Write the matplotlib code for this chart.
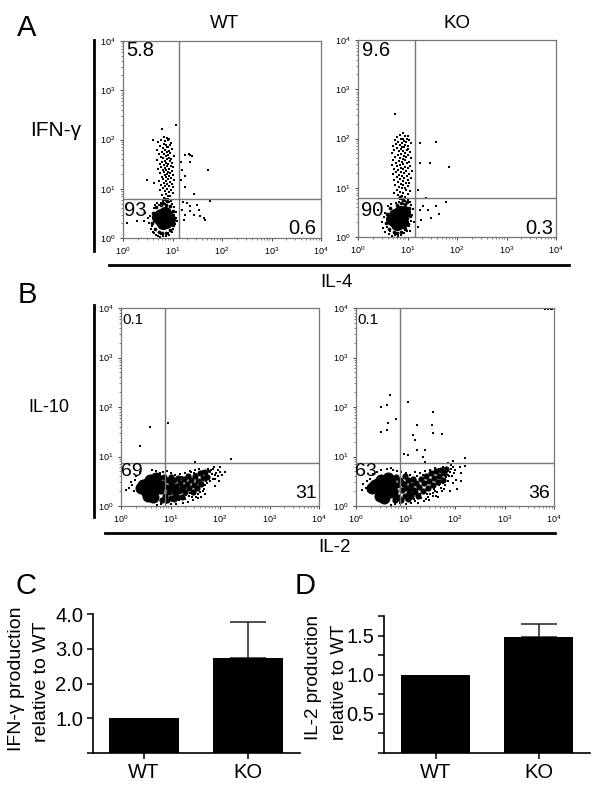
import matplotlib
matplotlib.use("Agg")
import matplotlib.pyplot as plt
import numpy as np
from matplotlib.lines import Line2D

plt.rcParams['font.family'] = ['Liberation Sans', 'DejaVu Sans']
plt.rcParams['mathtext.fontset'] = 'custom'
plt.rcParams['mathtext.rm'] = 'Liberation Sans'
plt.rcParams['mathtext.default'] = 'regular'

W, H = 604, 786

# gate positions, log10 units
gates = {"a_wt": (1.13, 0.79), "a_ko": (1.15, 0.80), "b_wt": (0.88, 0.87), "b_ko": (0.89, 0.87)}

# dots, all as (log10 x, log10 y)
# solid centre of each population
a_wt_core = [(.82, .41), (.76, .36), (.88, .44), (.80, .30), (.84, .50), (.77, .47), (.87, .32), (.71, .42), (.92, .38)]
a_ko_core = [(.81, .38), (.75, .32), (.87, .43), (.79, .26), (.84, .50), (.75, .44), (.88, .31), (.93, .50), (.69, .37)]
b_wt_core = [(.445, .424), (.58, .525), (.58, .357), (.68, .458), (.715, .559), (.546, .458), (.41, .357),
             (.648, .323), (.749, .357), (.546, .20), (.648, .175), (.50, .31)]
b_ko_core = [(.39, .42), (.50, .52), (.50, .35), (.60, .46), (.64, .56), (.47, .46), (.33, .36),
             (.58, .32), (.68, .38), (.48, .20), (.57, .17), (.72, .28)]

# middle density parts of the clouds
a_wt_band = [(.58, .30), (.60, .50), (.64, .18), (.66, .62), (.72, .12), (.78, .10), (.86, .11), (.94, .16), (1.0, .26),
             (1.03, .40), (1.0, .54), (.94, .64), (.86, .68), (.76, .66), (.80, .72), (.88, .75), (.84, .80)]
a_ko_band = [(.56, .28), (.58, .46), (.62, .16), (.64, .58), (.72, .10), (.78, .08), (.86, .10), (.95, .16), (1.02, .26),
             (1.05, .42), (1.03, .58), (.95, .66), (.86, .70), (.78, .64), (.90, .76), (.98, .72), (.84, .82)]
b_wt_band = [(.80, .30), (.84, .46), (.88, .20), (.90, .38), (.94, .52), (.96, .28), (1.0, .44), (1.02, .16), (1.05, .33),
             (1.07, .52), (1.1, .25), (1.12, .41), (1.15, .56), (1.18, .31), (1.2, .47), (1.23, .19), (1.25, .38),
             (1.28, .54), (1.3, .29), (1.33, .45), (1.36, .61), (1.38, .36), (1.42, .52), (1.45, .28), (1.47, .43),
             (1.5, .60), (1.53, .37), (1.56, .50), (1.6, .66), (1.62, .44), (1.66, .56), (1.7, .68), (1.74, .58),
             (.82, .12), (.86, .58), (.92, .12), (1.0, .58), (1.08, .14), (1.14, .18), (.98, .34), (1.1, .36), (1.22, .34)]
b_ko_band = [(.74, .50), (.78, .30), (.82, .42), (.85, .18), (.88, .53), (.92, .32), (.96, .44), (.98, .2), (1.02, .36),
             (1.05, .52), (1.08, .26), (1.12, .42), (1.15, .54), (1.18, .32), (1.22, .46), (1.25, .2), (1.28, .38),
             (1.32, .55), (1.35, .3), (1.38, .46), (1.42, .6), (1.45, .36), (1.48, .5), (1.52, .66), (1.55, .42),
             (1.58, .56), (1.62, .7), (1.65, .48), (1.68, .6), (1.72, .72), (1.75, .52), (1.78, .66), (1.82, .74),
             (.78, .12), (.8, .58), (.9, .12), (.98, .6), (1.06, .14), (1.12, .2), (.92, .46), (1.08, .36), (1.2, .28)]

# single dots
a_wt_dots = [(.82, .82), (.90, .85), (.95, .86), (.78, .88), (.86, .90), (1.0, .91), (.92, .93), (.84, .95), (.74, .97),
             (.97, .98), (.88, 1.0), (.80, 1.01), (1.02, 1.03), (.93, 1.05), (.85, 1.06), (.76, 1.08), (.99, 1.09),
             (.89, 1.1), (.83, 1.12), (.94, 1.13), (.87, 1.15), (.72, 1.16), (1.04, 1.17), (.91, 1.19), (.81, 1.2),
             (.96, 1.21), (.86, 1.23), (.78, 1.24), (.92, 1.26), (.84, 1.27), (1.0, 1.28), (.88, 1.3), (.75, 1.31),
             (.95, 1.32), (.83, 1.34), (.90, 1.35), (.98, 1.36), (.80, 1.38), (.87, 1.39), (.70, 1.4), (.93, 1.41),
             (.85, 1.42), (1.01, 1.44), (.77, 1.45), (.89, 1.46), (.96, 1.47), (.82, 1.48), (.74, 1.5), (.91, 1.51),
             (.86, 1.52), (.99, 1.53), (.79, 1.55), (.94, 1.56), (.84, 1.57), (.68, 1.58), (.88, 1.6), (.97, 1.61),
             (.81, 1.62), (.92, 1.63), (.76, 1.65), (.86, 1.66), (1.03, 1.67), (.90, 1.68), (.72, 1.7), (.83, 1.71),
             (.95, 1.72), (.88, 1.74), (.78, 1.75), (.93, 1.77), (.85, 1.78), (.69, 1.79), (.98, 1.81), (.80, 1.82),
             (.89, 1.84), (.91, 1.85), (.75, 1.86), (.87, 1.88), (.94, 1.89), (.82, 1.91), (.96, 1.93), (.71, 1.94),
             (.85, 1.96), (.90, 1.98), (.77, 2.0), (.93, 2.02), (.88, 2.04), (.83, 2.05),
             (.80, .76), (.86, .78), (.92, .74), (.76, .72), (.84, .70), (.90, .80), (.96, .76), (.72, .68), (.98, .70),
             (1.26, 1.68), (1.36, 1.68), (1.33, 1.7), (1.39, 1.66), (1.36, 1.55), (1.72, 1.38), (1.26, 1.25), (1.26, 1.04),
             (1.43, .9), (1.75, .76), (1.29, .71), (1.49, .67), (1.36, .54), (1.53, .57), (1.63, .4), (1.26, .47),
             (1.43, .47), (1.56, .44), (1.66, .37), (1.35, .64), (1.21, .74), (1.19, .57), (1.24, .37), (1.19, 1.38),
             (1.17, 1.55), (1.18, 1.18), (.79, 2.22), (1.07, 2.3), (.61, 2.0), (.48, 1.18), (.62, 1.11), (.08, .3),
             (.28, .34), (.42, .34), (.45, .5),
             (.52, .30), (.56, .18), (.55, .44), (.60, .12), (.62, .60), (.66, .06), (.70, .04), (.74, .03), (.80, .05),
             (.86, .04), (.92, .07), (.98, .12), (1.02, .18), (1.06, .28), (1.08, .40), (1.07, .52), (1.03, .62),
             (.64, .68), (.58, .24), (.50, .40), (.68, .72), (.63, .10), (.76, .09), (.90, .10), (1.04, .46), (1.10, .34)]

a_ko_dots = [(.88, .84), (.95, .82), (.80, .86), (1.02, .87), (.72, .89), (.91, .90), (.85, .92), (1.06, .93), (.97, .95),
             (.78, .96), (.89, 1.0), (.94, 1.0), (.83, 1.02), (1.01, 1.04), (.75, 1.05), (.91, 1.06), (.86, 1.08), (1.04, 1.09),
             (.96, 1.1), (.80, 1.12), (.90, 1.13), (.73, 1.15), (1.0, 1.16), (.85, 1.17), (.93, 1.19), (1.07, 1.2),
             (.78, 1.21), (.88, 1.23), (.98, 1.24), (.83, 1.26), (.70, 1.27), (1.03, 1.28), (.92, 1.3), (.86, 1.31),
             (.76, 1.32), (.97, 1.34), (1.09, 1.35), (.81, 1.36), (.90, 1.38), (.72, 1.39), (1.0, 1.4), (.87, 1.41),
             (.94, 1.42), (.79, 1.44), (1.05, 1.45), (.84, 1.46), (.69, 1.47), (.91, 1.48), (.99, 1.5), (.77, 1.51),
             (.88, 1.52), (1.03, 1.53), (.82, 1.55), (.95, 1.56), (.71, 1.57), (.90, 1.58), (1.08, 1.6), (.85, 1.61),
             (.97, 1.62), (.75, 1.63), (.92, 1.65), (1.01, 1.66), (.80, 1.67), (.87, 1.68), (.68, 1.7), (.94, 1.71),
             (1.05, 1.72), (.83, 1.74), (.91, 1.75), (.73, 1.76), (.98, 1.77), (.86, 1.78), (1.02, 1.79), (.78, 1.81),
             (.93, 1.82), (.89, 1.83), (.70, 1.84), (1.0, 1.85), (.84, 1.86), (.95, 1.87), (.76, 1.89), (1.07, 1.9),
             (.88, 1.91), (.96, 1.92), (.81, 1.93), (.92, 1.95), (1.03, 1.96), (.74, 1.97), (.86, 1.98), (.99, 2.0),
             (.90, 2.0), (.79, 2.03), (.95, 2.05), (.85, 2.08), (1.02, 2.06), (.90, 2.12), (.74, 2.5),
             (.88, .78), (.94, .74), (.82, .72), (1.0, .76), (.76, .70), (.90, .68), (1.05, .72), (.96, .66), (.84, .78),
             (1.25, 1.9), (1.58, 1.92), (1.25, 1.5), (1.45, 1.5), (1.83, 1.42), (1.21, .96), (1.78, .71), (1.58, .62),
             (1.38, .79), (1.41, .55), (1.63, .47), (1.48, .385), (1.28, .35), (1.25, .55), (1.31, .62), (1.22, .2),
             (.40, .55), (.48, .30), (.50, .18), (.55, .48), (.54, .10), (.60, .62), (.62, .06), (.68, .02), (.74, .04),
             (.80, .02), (.86, .05), (.92, .08), (.98, .12), (1.04, .22), (1.08, .32), (1.10, .44), (1.12, .56), (1.08, .64),
             (.58, .20), (.52, .40), (.66, .66), (.64, .12), (.72, .08), (.88, .10), (1.02, .36), (1.14, .30), (1.06, .12)]

b_wt_dots = [(.58, 1.6), (.94, 1.67), (.38, 1.22), (2.23, .95), (1.49, .88), (2.1, .69), (2.0, .79), (1.88, .78), (1.75, .75),
             (1.82, .72), (1.92, .66), (1.95, .60), (1.86, .55), (1.8, .50), (1.7, .42), (1.6, .28), (1.55, .16), (1.45, .12),
             (1.35, .08), (1.25, .06), (1.12, .05), (1.0, .04), (.9, .06), (.8, .05), (.72, .03), (1.9, .40), (1.96, .72), (2.05, .62),
             (1.66, .70), (1.58, .74), (1.5, .72), (1.42, .68), (1.3, .66), (1.2, .64), (1.1, .62), (1.0, .66), (.92, .70), (.84, .68),
             (.22, .42), (.16, .36), (.11, .32), (.26, .30), (.28, .52), (.20, .48), (.31, .60), (.38, .68),
             (.62, .72), (.7, .70), (.78, .66), (1.78, .60), (1.84, .64), (1.72, .62), (1.64, .6), (1.74, .46), (1.68, .34),
             (1.56, .32), (1.48, .24), (1.38, .2), (1.3, .14), (1.18, .12), (1.06, .1), (.96, .12), (.86, .1), (1.4, .7),
             (1.9, .54), (2.0, .68), (1.62, .18), (1.34, .62), (1.24, .58), (1.14, .56), (1.52, .64), (1.8, .68), (1.98, .5),
             (1.6, .4), (1.65, .3), (1.72, .5), (1.78, .7), (1.55, .24), (1.48, .66), (1.44, .18), (1.32, .22), (1.4, .26),
             (1.26, .16), (1.52, .18), (1.85, .74), (1.9, .62), (1.7, .24)]

b_ko_dots = [(.65, 1.68), (.62, 1.54), (.5, 1.49), (1.24, 1.64), (1.54, 1.64), (1.56, 1.47), (1.74, 1.45), (1.16, 1.43),
             (1.19, 1.33), (.97, 1.06), (1.06, 1.03), (1.24, 1.13), (1.39, 1.13), (1.36, 1.0), (1.39, .88), (2.2, .96),
             (2.1, .79), (2.13, .66), (2.2, .8), (.69, 2.24), (.63, 2.05), (.5, 2.0), (1.05, 2.1), (1.55, 1.9), (.8, 1.75),
             (3.82, 3.98), (3.88, 3.98), (3.93, 3.97), (3.96, 3.98),
             (1.92, .82), (1.96, .78), (2.0, .72), (1.86, .86), (1.9, .68), (1.94, .6), (2.02, .52), (1.96, .46), (2.05, .34),
             (1.85, .5), (1.8, .42), (1.72, .36), (1.64, .28), (1.55, .2), (1.48, .12), (1.38, .1), (1.25, .07), (1.12, .06),
             (1.0, .05), (.88, .06), (.78, .04), (.7, .03), (1.9, .3), (1.84, .7), (1.76, .78), (1.68, .74), (1.6, .76),
             (1.5, .72), (1.4, .7), (1.3, .66), (1.2, .68), (1.1, .62), (1.0, .66), (.9, .68), (.82, .7), (.74, .72),
             (.15, .44), (.2, .36), (.13, .32), (.24, .3), (.22, .5), (.28, .54), (.34, .64), (.42, .68), (.5, .72), (.62, .74),
             (.7, .76), (1.95, .9), (1.7, .62), (1.76, .46), (1.58, .34), (1.44, .24), (1.32, .16), (1.18, .14), (1.06, .12),
             (.94, .1), (1.88, .6), (1.82, .58), (1.98, .66), (1.66, .18), (2.12, .5), (1.54, .66), (1.36, .62), (1.24, .6),
             (1.6, .3), (1.68, .42), (1.74, .3), (1.8, .52), (1.5, .24), (1.42, .14), (1.3, .24), (1.2, .1), (1.56, .26),
             (1.86, .62), (1.92, .74), (1.78, .34), (1.62, .2), (1.46, .18)]

# percentages in the quadrants
a_wt_pct = ["5.8", "93", "0.6"]
a_ko_pct = ["9.6", "90", "0.3"]
b_wt_pct = ["0.1", "69", "31"]
b_ko_pct = ["0.1", "63", "36"]

# bar charts
groups = ["WT", "KO"]
ifng_vals = [1.0, 2.72]
ifng_err = [0, 1.06]
il2_vals = [1.0, 1.48]
il2_err = [0, 0.17]


def rect(x0, y0, x1, y1):
    # pixel box (top left origin) to figure fractions
    return [x0 / W, 1 - y1 / H, (x1 - x0) / W, (y1 - y0) / H]


def label(x, y, s, size, **kw):
    fig.text(x / W, 1 - y / H, s, fontsize=size, ha=kw.pop("ha", "center"), va=kw.pop("va", "center"), **kw)


def flow_panel(box, name, core, dots, band, core_size, band_size):
    ax = fig.add_axes(rect(*box))
    ax.set_xscale("log")
    ax.set_yscale("log")
    ax.set_xlim(1, 1e4)
    ax.set_ylim(1, 1e4)
    core = np.array(core)
    dots = np.array(dots)
    band = np.array(band)
    ax.scatter(10 ** core[:, 0], 10 ** core[:, 1], s=core_size, c="k", lw=0)
    ax.scatter(10 ** band[:, 0], 10 ** band[:, 1], s=band_size, c="k", lw=0)
    ax.scatter(10 ** dots[:, 0], 10 ** dots[:, 1], s=1.1, c="k", lw=0, marker="s", clip_on=False)
    gx, gy = gates[name]
    ax.axvline(10 ** gx, color="#777777", lw=1.0)
    ax.axhline(10 ** gy, color="#777777", lw=1.0)
    for s in ax.spines.values():
        s.set_color("#777777")
        s.set_linewidth(0.9)
    ax.tick_params(which="major", length=2.5, width=0.6, labelsize=6.5, pad=3, color="#222222")
    ax.tick_params(which="minor", length=1.3, width=0.4, color="#222222")
    ax.xaxis.set_major_locator(matplotlib.ticker.LogLocator(base=10, numticks=6))
    ax.yaxis.set_major_locator(matplotlib.ticker.LogLocator(base=10, numticks=6))
    return ax


def bar_panel(box, xlim, vals, errs, ylim, yticks, ylabels):
    ax = fig.add_axes(rect(*box))
    ax.bar([0, 1], vals, width=0.675, color="k", zorder=2)
    ax.errorbar([1], vals[1:], yerr=[[0], errs[1:]], fmt="none", ecolor="#222222", elinewidth=1.1,
                capsize=13, capthick=1.1, zorder=1)
    ax.set_xlim(*xlim)
    ax.set_ylim(*ylim)
    ax.set_xticks([0, 1])
    ax.set_xticklabels(groups, fontsize=14.5)
    ax.set_yticks(yticks)
    ax.set_yticklabels(ylabels, fontsize=14.5)
    ax.spines["top"].set_visible(False)
    ax.spines["right"].set_visible(False)
    ax.spines["left"].set_linewidth(1.2)
    ax.spines["bottom"].set_linewidth(1.2)
    ax.tick_params(length=4, width=1.1, pad=3)
    return ax


fig = plt.figure(figsize=(W / 100, H / 100), dpi=100)

flow_panel((123, 41, 321, 238), "a_wt", a_wt_core, a_wt_dots, a_wt_band, 90, 7)
flow_panel((358, 40, 556, 237), "a_ko", a_ko_core, a_ko_dots, a_ko_band, 90, 7)
flow_panel((121, 308, 319, 506), "b_wt", b_wt_core, b_wt_dots, b_wt_band, 75, 20)
flow_panel((356, 308, 554, 506), "b_ko", b_ko_core, b_ko_dots, b_ko_band, 75, 20)

bar_panel((93, 614, 300, 753), (-0.49, 1.5), ifng_vals, ifng_err, (0, 4), [0, 1, 2, 3, 4], ["", "1.0", "2.0", "3.0", "4.0"])
bar_panel((384, 616, 590, 753), (-0.5, 1.5), il2_vals, il2_err, (0, 1.75),
          [0, .25, .5, .75, 1, 1.25, 1.5, 1.75], ["", "", "0.5", "", "1.0", "", "1.5", ""])

# heavy axis rules next to the flow plots
for (x0, y0, x1, y1) in [(94, 40, 94, 251), (109, 265, 569, 265), (94, 305, 94, 517), (105, 533, 555, 533)]:
    fig.add_artist(Line2D([x0 / W, x1 / W], [1 - y0 / H, 1 - y1 / H], color="k", lw=2.0))

for s, x, y in [("A", 27, 28), ("B", 27, 295), ("C", 26, 586), ("D", 305, 586)]:
    label(x, y, s, 21)

label(224, 24, "WT", 13.5)
label(457, 24, "KO", 13.5)
label(56, 131, "IFN-γ", 15)
label(336, 282, "IL-4", 13.5)
label(49, 407, "IL-10", 13)
label(335, 548, "IL-2", 13.5)

for pct, xs, ys, size in [(a_wt_pct, (140, 135, 316), (50, 211, 229), (14.5, 14.5)),
                          (a_ko_pct, (376, 372, 553), (51, 210, 229), (14.5, 14.5)),
                          (b_wt_pct, (133, 132, 317), (320, 471, 494), (11, 14)),
                          (b_ko_pct, (368, 366, 550), (320, 471, 494), (11, 14))]:
    label(xs[0], ys[0], pct[0], size[0])
    label(xs[1], ys[1], pct[1], size[1])
    label(xs[2], ys[2], pct[2], size[1], ha="right")

label(17, 679, "IFN-γ production", 14, rotation=90)
label(41, 682, "relative to WT", 14, rotation=90)
label(313, 678, "IL-2 production", 13.5, rotation=90)
label(339, 682, "relative to WT", 13.5, rotation=90)

plt.savefig("out.png", dpi=100)
